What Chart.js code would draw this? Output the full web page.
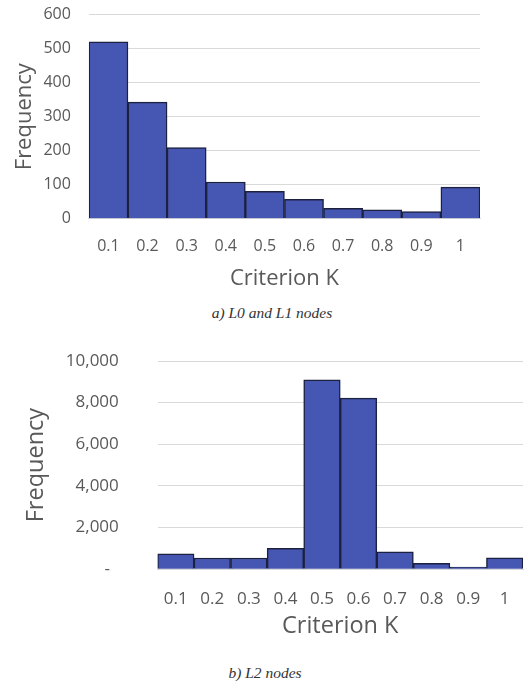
<!DOCTYPE html>
<html lang="en">
  <head>
    <meta charset="utf-8" />
    <title>Criterion K histograms</title>
    <script src="https://cdn.jsdelivr.net/npm/chart.js@4/dist/chart.umd.min.js"></script>
    <style>
      body { margin: 0; background: #fff; width: 528px; height: 682px; position: relative; overflow: hidden; }
      .box { position: absolute; left: 0; }
      .caption {
        position: absolute;
        font-family: "Liberation Serif", "Times New Roman", serif;
        font-style: italic;
        font-size: 15.5px;
        color: #333;
        transform: translate(-50%, -50%);
        white-space: nowrap;
      }
    </style>
  </head>
  <body>
    <div class="box" style="top:0px"><canvas id="chartA" width="500" height="300"></canvas></div>
    <div class="caption" style="left:272px; top:313px">a) L0 and L1 nodes</div>
    <div class="box" style="top:340px"><canvas id="chartB" width="528" height="308"></canvas></div>
    <div class="caption" style="left:265px; top:673px">b) L2 nodes</div>

    <script>
      // bins of criterion K
      const kLabels = ['0.1', '0.2', '0.3', '0.4', '0.5', '0.6', '0.7', '0.8', '0.9', '1'];
      // L0 and L1 nodes
      const freqL01 = [520, 343, 209, 108, 81, 57, 31, 26, 21, 93];
      // L2 nodes
      const freqL2 = [740, 540, 540, 1000, 9100, 8220, 830, 280, 100, 550];

      const barFill = '#4656b3';
      const barEdge = '#1c2140';
      const textGrey = '#595959';
      const gridGrey = '#d9d9d9';

      // tick marks are kept but made invisible, they only space the labels off the plot
      function histogram(ctx, values, o) {
        return new Chart(ctx, {
          type: 'bar',
          data: {
            labels: kLabels,
            datasets: [{
              data: values,
              backgroundColor: barFill,
              borderColor: barEdge,
              borderWidth: 1.5,
              barPercentage: 1,
              categoryPercentage: 1,
            }]
          },
          options: {
            responsive: false,
            animation: false,
            layout: { padding: o.pad },
            plugins: { legend: { display: false }, tooltip: { enabled: false } },
            scales: {
              x: {
                grid: { drawOnChartArea: false, drawTicks: true, tickLength: o.xTick, tickColor: 'rgba(0,0,0,0)' },
                border: { display: true, color: gridGrey },
                ticks: {
                  color: textGrey, maxRotation: 0, autoSkip: false,
                  padding: 1,
                  font: { family: 'Open Sans', size: o.tick }
                },
                title: {
                  display: true, text: 'Criterion K', color: textGrey,
                  padding: { top: o.xTitlePad, bottom: 4 },
                  font: { family: 'Open Sans', size: o.title }
                }
              },
              y: {
                min: 0, max: o.max,
                grid: { color: gridGrey, drawTicks: true, tickLength: o.yTick, tickColor: 'rgba(0,0,0,0)' },
                border: { display: false },
                ticks: {
                  stepSize: o.step, color: textGrey, padding: 5,
                  font: { family: 'Open Sans', size: o.tick },
                  callback: o.fmt
                },
                title: {
                  display: true, text: 'Frequency', color: textGrey,
                  padding: o.yTitlePad,
                  font: { family: 'Open Sans', size: o.title }
                }
              }
            }
          }
        });
      }

      histogram(document.getElementById('chartA').getContext('2d'), freqL01, {
        max: 600, step: 100, tick: 16, title: 22,
        pad: { top: 5, right: 20, bottom: 4, left: 0 },
        xTick: 17, xTitlePad: 8.6, yTick: 13,
        yTitlePad: { top: 12, bottom: 0 },
        fmt: v => String(v)
      });

      histogram(document.getElementById('chartB').getContext('2d'), freqL2, {
        max: 10000, step: 2000, tick: 17, title: 23.5,
        pad: { top: 21, right: 5, bottom: 4, left: 0 },
        xTick: 19, xTitlePad: 1.2, yTick: 33.7,
        yTitlePad: { top: 22.6, bottom: 10 },
        fmt: v => v === 0 ? '-  ' : v.toLocaleString('en-US')
      });
    </script>
  </body>
</html>
